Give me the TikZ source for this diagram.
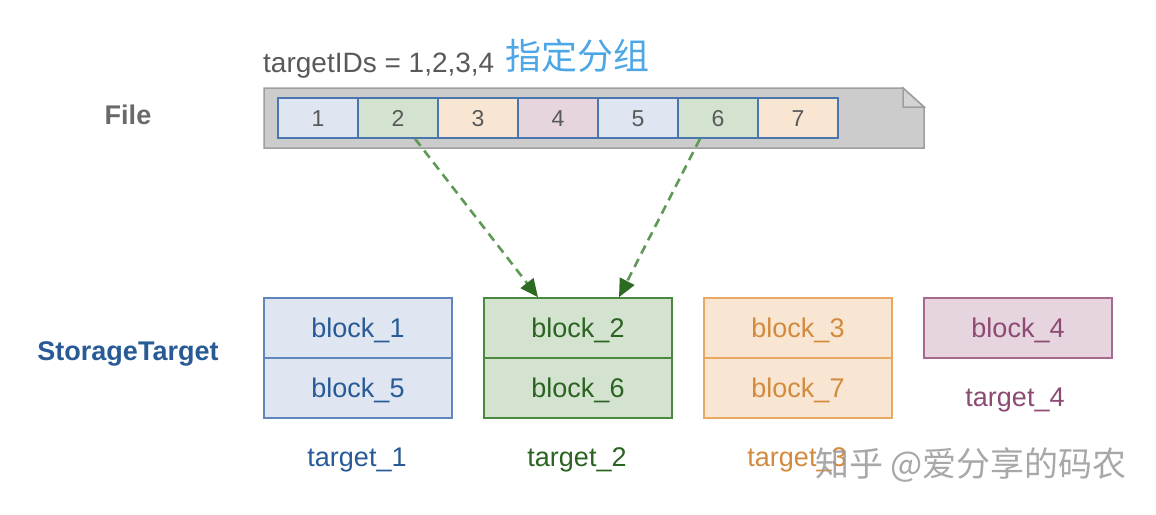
\documentclass[tikz,border=0pt]{standalone}
\usepackage{fontspec}
\setmainfont{Liberation Sans}
\newfontfamily\cjk{Noto Sans CJK SC}
\usetikzlibrary{arrows.meta,calc}
\definecolor{txtgray}{HTML}{595959}
\definecolor{cellborder}{HTML}{4A76AE}
\definecolor{fblue}{HTML}{DFE6F1}
\definecolor{fgreen}{HTML}{D4E3D0}
\definecolor{forange}{HTML}{F9E6D2}
\definecolor{fpurple}{HTML}{E6D4DE}
\definecolor{bblue}{HTML}{5F87BE}
\definecolor{bgreen}{HTML}{4A8A3E}
\definecolor{borange}{HTML}{E9A962}
\definecolor{bpurple}{HTML}{A8698F}
\definecolor{tblue}{HTML}{285A96}
\definecolor{tgreen}{HTML}{2A6420}
\definecolor{torange}{HTML}{D38A3D}
\definecolor{tpurple}{HTML}{8C4A74}
\definecolor{arrline}{HTML}{5E9A55}
\definecolor{arrhead}{HTML}{2D6B22}
\definecolor{cjkblue}{HTML}{4DA6E6}
\definecolor{filefill}{HTML}{CCCCCC}
\definecolor{fileborder}{HTML}{9E9E9E}
\tikzset{
  filebox/.style={fill=filefill, draw=fileborder, line width=1.5pt},
  cell/.style={draw=cellborder, line width=1.5pt, minimum width=80pt, minimum height=40pt,
    inner sep=0pt, text=txtgray, font=\fontsize{23}{25}\selectfont, text height=16.5pt, text depth=0pt},
  blk/.style={line width=1.5pt, minimum width=188pt, minimum height=60pt, inner sep=0pt,
    font=\fontsize{27}{30}\selectfont, text height=19pt, text depth=0pt},
  lbl/.style={inner sep=0pt, font=\fontsize{27}{30}\selectfont, text height=19pt, text depth=0pt},
  side/.style={inner sep=0pt, font=\bfseries\fontsize{27}{30}\selectfont},
  arr/.style={draw=arrline, line width=2.6pt, dash pattern=on 9pt off 6pt,
    -{Triangle[length=18pt,width=16pt,color=arrhead]}}
}
\begin{document}
\begin{tikzpicture}[x=1pt,y=-1pt]
\useasboundingbox (0,0) rectangle (1156,514);
\fill[white] (0,0) rectangle (1156,514);

% title
\node[anchor=base west, inner sep=0pt, text=txtgray, font=\fontsize{28}{30}\selectfont] (title) at (263,72) {targetIDs = 1,2,3,4};
\node[anchor=base west, inner sep=0pt, text=cjkblue, font=\cjk\fontsize{36}{38}\selectfont] (group) at (505,69) {指定分组};

% side labels
\node[side, text=txtgray!90] (file) at (128,115) {File};
\node[side, text=tblue] (st) at (128,354) {StorageTarget};

% file shape
\draw[filebox] (264,88) -- (903,88) -- (924,107) -- (924,148) -- (264,148) -- cycle;
\draw[draw=fileborder, line width=1.5pt, fill=filefill!85!white] (903,88) -- (903,107) -- (924,107) -- cycle;

% cells
\node[cell, fill=fblue]   (c1) at (318,118) {1};
\node[cell, fill=fgreen]  (c2) at (398,118) {2};
\node[cell, fill=forange] (c3) at (478,118) {3};
\node[cell, fill=fpurple] (c4) at (558,118) {4};
\node[cell, fill=fblue]   (c5) at (638,118) {5};
\node[cell, fill=fgreen]  (c6) at (718,118) {6};
\node[cell, fill=forange] (c7) at (798,118) {7};

% targets
\node[blk, fill=fblue, draw=bblue, text=tblue] (b1) at (358,328) {block\_1};
\node[blk, fill=fblue, draw=bblue, text=tblue] (b5) at (358,388) {block\_5};
\node[blk, fill=fgreen, draw=bgreen, text=tgreen] (b2) at (578,328) {block\_2};
\node[blk, fill=fgreen, draw=bgreen, text=tgreen] (b6) at (578,388) {block\_6};
\node[blk, fill=forange, draw=borange, text=torange] (b3) at (798,328) {block\_3};
\node[blk, fill=forange, draw=borange, text=torange] (b7) at (798,388) {block\_7};
\node[blk, fill=fpurple, draw=bpurple, text=tpurple] (b4) at (1018,328) {block\_4};

\node[lbl, text=tblue]   (t1) at (357,457) {target\_1};
\node[lbl, text=tgreen]  (t2) at (577,457) {target\_2};
\node[lbl, text=torange] (t3) at (797,457) {target\_3};
\node[lbl, text=tpurple] (t4) at (1015,397) {target\_4};

% arrows
\draw[arr] ($(c2.south)+(17,0)$) -- ($(b2.north)+(-40,0)$);
\draw[arr] ($(c6.south)+(-18,0)$) -- ($(b2.north)+(41,0)$);

% watermark
\node[inner sep=0pt, text=black!40, opacity=0.85, font=\cjk\fontsize{34}{36}\selectfont] (wm) at (971,465) {知乎 @爱分享的码农};
\end{tikzpicture}
\end{document}
